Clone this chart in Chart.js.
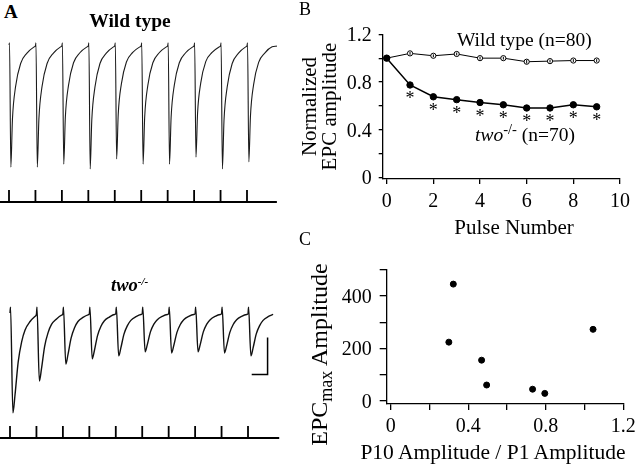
<!DOCTYPE html>
<html><head><meta charset="utf-8">
<script src="https://cdn.jsdelivr.net/npm/chart.js@4.4.1/dist/chart.umd.min.js"></script>
<style>
html,body{margin:0;padding:0;background:#fff;}
#fig{position:relative;width:640px;height:465px;overflow:hidden;background:#fff;font-family:"Liberation Serif","Times New Roman",serif;color:#000;}
#fig canvas{position:absolute;}
.t{position:absolute;white-space:nowrap;line-height:1;}
.tk{position:absolute;white-space:nowrap;line-height:1;font-size:20px;height:20px;width:100px;}
.rot{position:absolute;white-space:nowrap;line-height:1;text-align:center;transform:rotate(-90deg);}
.sup{position:relative;font-size:0.6em;top:-0.55em;}
.supB{position:relative;font-size:0.75em;top:-0.45em;}
.sub{position:relative;font-size:0.75em;top:0.3em;}
</style></head><body>
<div id="fig">
<canvas id="wtTrace" width="280" height="180" style="left:0;top:30px"></canvas>
<canvas id="twoTrace" width="280" height="180" style="left:0;top:280px"></canvas>
<canvas id="chartB" width="342" height="220" style="left:298px;top:19px"></canvas>
<canvas id="chartC" width="342" height="210" style="left:298px;top:255px"></canvas>

<div class="t" style="left:4px;top:2px;font-size:19px;font-weight:bold;">A</div>
<div class="t" style="left:30px;width:200px;text-align:center;top:11px;font-size:19.5px;font-weight:bold;">Wild type</div>
<div class="t" style="left:111px;top:276px;font-size:18.5px;font-weight:bold;font-style:italic;">two<span class="sup">-/-</span></div>

<div class="t" style="left:299px;top:0px;font-size:18px;">B</div>
<div class="t" style="left:457px;top:30px;font-size:19.5px;">Wild type (n=80)</div>
<div class="t" style="left:475px;top:125px;font-size:19.5px;"><i>two</i><span class="supB">-/-</span> (n=70)</div>
<div class="t" style="left:414px;width:200px;text-align:center;top:217px;font-size:21px;">Pulse Number</div>
<div class="rot" style="left:209px;width:200px;top:96px;height:21px;font-size:21px;">Normalized</div>
<div class="rot" style="left:229px;width:200px;top:96px;height:21px;font-size:21px;">EPC amplitude</div>

<div class="t" style="left:299px;top:230px;font-size:18px;">C</div>
<div class="t" style="left:343px;width:300px;text-align:center;top:442px;font-size:21.5px;">P10 Amplitude / P1 Amplitude</div>
<div class="rot" style="left:188px;width:260px;top:343px;height:23px;font-size:24px;">EPC<span class="sub">max</span> Amplitude</div>
</div>

<script>
// ---------- Panel A: stimulus train and recorded currents ----------
const stimTimes = [0, 100, 200, 300, 400, 500, 600, 700, 800, 900]; // ms
const wtSweep = [-34, 1013];   // ms, recording window
const twoSweep = [-38, 1018];  // ms, recording window

const wtTime = [
  0, 2, 7, 13, 25, 44, 68, 95,
  100, 102, 107, 113, 125, 144, 168, 195,
  200, 202, 207, 213, 225, 244, 268, 295,
  300, 302, 307, 313, 325, 344, 368, 395,
  400, 402, 407, 413, 425, 444, 468, 495,
  500, 502, 507, 513, 525, 544, 568, 595,
  600, 602, 607, 613, 625, 644, 668, 695,
  700, 702, 707, 713, 725, 744, 768, 795,
  800, 802, 807, 813, 825, 844, 868, 895,
  900, 902, 907, 913, 925, 944, 968, 995,
  1013
];
const wtCurrent = [ // nA
  0, 6, -330, -201, -112, -50, -22, -5,
  -2, 6, -330, -201, -112, -50, -22, -5,
  -2, 6, -322, -196, -109, -48, -21, -5,
  -2, 6, -335, -204, -114, -50, -22, -5,
  -2, 6, -308, -188, -105, -46, -20, -5,
  -2, 6, -322, -196, -109, -48, -21, -5,
  -2, 6, -322, -196, -109, -48, -21, -5,
  -2, 6, -303, -185, -103, -45, -20, -5,
  -2, 6, -335, -204, -114, -50, -22, -5,
  -2, 6, -316, -193, -107, -47, -21, -5,
  -3
];

const twoTime = [
  0, 2, 11, 19, 31, 44, 57, 76, 95,
  100, 102, 111, 119, 131, 144, 157, 176, 195,
  200, 202, 211, 219, 231, 244, 257, 276, 295,
  300, 302, 311, 319, 331, 344, 357, 376, 395,
  400, 402, 411, 419, 431, 444, 457, 476, 495,
  500, 502, 511, 519, 531, 544, 557, 576, 595,
  600, 602, 611, 619, 631, 644, 657, 676, 695,
  700, 702, 711, 719, 731, 744, 757, 776, 795,
  800, 802, 811, 819, 831, 844, 857, 876, 895,
  900, 902, 911, 919, 931, 944, 957, 976, 995
];
const twoCurrent = [ // nA
  0, 16, -270, -221, -132, -78, -46, -23, -9,
  -3, 16, -184, -151, -90, -53, -31, -16, -6,
  -2, 16, -138, -113, -68, -40, -23, -12, -5,
  -2, 16, -124, -102, -61, -36, -21, -11, -4,
  -2, 16, -116, -95, -57, -34, -20, -10, -4,
  -2, 16, -105, -86, -51, -30, -18, -9, -4,
  -2, 16, -108, -89, -53, -31, -18, -9, -4,
  -2, 16, -105, -86, -51, -30, -18, -9, -4,
  -2, 16, -108, -89, -53, -31, -18, -9, -4,
  -2, 16, -116, -95, -57, -34, -20, -10, -4
];
const scaleBarMs = 60, scaleBarNA = 100;
const scaleBarCorner = {t: 974, nA: -166};

// ---------- Panel B: normalized EPC amplitude vs pulse ----------
const pulseNumbers = [0, 1, 2, 3, 4, 5, 6, 7, 8, 9];
const wtNormalized = [1.00, 1.04, 1.02, 1.035, 1.00, 1.00, 0.97, 0.975, 0.98, 0.98];
const wtSem = [0.0, 0.012, 0.012, 0.012, 0.012, 0.012, 0.015, 0.012, 0.012, 0.012];
const twoNormalized = [1.00, 0.775, 0.676, 0.652, 0.628, 0.609, 0.582, 0.582, 0.609, 0.592];
const twoSem = [0.0, 0.01, 0.01, 0.01, 0.01, 0.01, 0.01, 0.01, 0.01, 0.01];
const significant = [false, true, true, true, true, true, true, true, true, true];
const bYTicks = [0, 0.4, 0.8, 1.2];
const bXTicks = [0, 2, 4, 6, 8, 10];

// ---------- Panel C: EPCmax vs P10/P1 ----------
const p10OverP1 = [0.323, 0.30, 0.469, 0.495, 0.732, 0.795, 1.044];
const epcMax = [446, 224, 155, 60, 44, 28, 273];
const cYTicks = [0, 200, 400];
const cXTicks = [0, 0.4, 0.8, 1.2];

// ---------- helpers ----------
const fig = document.getElementById('fig');
const pts = (xs, ys) => xs.map((x, i) => ({x: x, y: ys[i]}));
const stimData = (sweep) => {
  const d = [{x: sweep[0], y: 0}];
  stimTimes.forEach(t => { d.push({x: t, y: 0}, {x: t, y: 1}, {x: t, y: 0}); });
  d.push({x: sweep[1], y: 0});
  return d;
};
const hidden = (min, max) => ({type: 'linear', display: false, min: min, max: max});
const baseOpts = {
  responsive: false, animation: false, events: [],
  plugins: {legend: {display: false}, tooltip: {enabled: false}}
};
function addText(txt, left, top, cls, style) {
  const d = document.createElement('div');
  d.className = cls; d.textContent = txt;
  d.style.left = left + 'px'; d.style.top = top + 'px';
  Object.assign(d.style, style || {});
  fig.appendChild(d);
  return d;
}

// Tick labels placed as real text at the positions given by the chart's own scales
function htmlTickPlugin(axes, extra) {
  let done = false;
  return {
    id: 'htmlTicks',
    afterRender(chart) {
      if (done) return; done = true;
      const cl = chart.canvas.offsetLeft, ct = chart.canvas.offsetTop;
      axes.forEach(a => {
        const sc = chart.scales[a.id];
        a.values.forEach(v => {
          const p = sc.getPixelForValue(v);
          if (sc.isHorizontal()) {
            addText(a.fmt(v), cl + p - 50, ct + sc.top + a.offset - 10, 'tk', {textAlign: 'center'});
          } else {
            addText(a.fmt(v), cl + sc.right - a.offset - 100, ct + p - 10, 'tk', {textAlign: 'right'});
          }
        });
      });
      if (extra) extra(chart, cl, ct);
    }
  };
}

// ---------- Panel A charts ----------
function traceChart(id, time, current, sweep, xr, yr, sr, color, lw, extra) {
  const datasets = [
    {data: pts(time, current), borderColor: color, borderWidth: lw, pointRadius: 0,
     cubicInterpolationMode: 'monotone', yAxisID: 'y'},
    {data: stimData(sweep), borderColor: '#000', borderWidth: 1.8, pointRadius: 0,
     tension: 0, yAxisID: 'ys'}
  ].concat(extra || []);
  return new Chart(document.getElementById(id), {
    type: 'line',
    data: {datasets: datasets},
    options: Object.assign({}, baseOpts, {
      layout: {padding: 0},
      scales: {x: hidden(xr[0], xr[1]), y: hidden(yr[0], yr[1]), ys: hidden(sr[0], sr[1])}
    })
  });
}
traceChart('wtTrace', wtTime, wtCurrent, wtSweep, [-34.03, 1024.8], [-445.95, 40.54], [-0.667, 14.333], '#1b1b1b', 1.1);
traceChart('twoTrace', twoTime, twoCurrent, twoSweep, [-37.82, 1020.97], [-397.3, 89.19], [-1.833, 13.167], '#111', 1.4, [
  {data: [
     {x: scaleBarCorner.t - scaleBarMs, y: scaleBarCorner.nA},
     {x: scaleBarCorner.t, y: scaleBarCorner.nA},
     {x: scaleBarCorner.t, y: scaleBarCorner.nA + scaleBarNA}],
   borderColor: '#000', borderWidth: 1.5, pointRadius: 0, tension: 0, yAxisID: 'y'}
]);

// ---------- axes for panels B and C ----------
function framedAxis(o) {
  return {
    type: 'linear', min: o.min, max: o.max,
    afterFit: o.fit,
    border: {display: true, color: '#000', width: 1.3},
    grid: {drawOnChartArea: false, drawTicks: true, color: '#000', lineWidth: 1.3, tickLength: o.tl},
    ticks: {stepSize: o.step, includeBounds: false, display: false, autoSkip: false}
  };
}
const fmtDec = (v) => (v === 0 ? '0' : v.toFixed(1));

// ---------- Panel B ----------
const errorBars = {
  id: 'errorBars',
  afterDatasetsDraw(chart) {
    const ctx = chart.ctx, xs = chart.scales.x, ys = chart.scales.y;
    ctx.save();
    ctx.strokeStyle = '#000'; ctx.lineWidth = 1;
    pulseNumbers.forEach((p, i) => {
      const px = xs.getPixelForValue(p);
      [[wtNormalized, wtSem], [twoNormalized, twoSem]].forEach(([v, s]) => {
        if (s[i] > 0) {
          ctx.beginPath();
          ctx.moveTo(px, ys.getPixelForValue(v[i] - s[i]));
          ctx.lineTo(px, ys.getPixelForValue(v[i] + s[i]));
          ctx.stroke();
        }
      });
    });
    ctx.restore();
  }
};
const asterisks = (chart, cl, ct) => {
  pulseNumbers.forEach((p, i) => {
    if (!significant[i]) return;
    const x = cl + chart.scales.x.getPixelForValue(p);
    const y = ct + chart.scales.y.getPixelForValue(twoNormalized[i]);
    addText('*', x - 20, y + 4.4, 't', {width: '40px', textAlign: 'center', fontSize: '18px'});
  });
};

new Chart(document.getElementById('chartB'), {
  type: 'line',
  data: {datasets: [
    {data: pts(pulseNumbers, twoNormalized), borderColor: '#000', borderWidth: 1.5, tension: 0,
     pointRadius: 3.2, pointStyle: 'circle', pointBackgroundColor: '#000', pointBorderColor: '#000', pointBorderWidth: 1},
    {data: pts(pulseNumbers, wtNormalized), borderColor: '#000', borderWidth: 1, tension: 0,
     pointRadius: 2.6, pointStyle: 'circle', pointBackgroundColor: '#fff', pointBorderColor: '#000', pointBorderWidth: 1}
  ]},
  options: Object.assign({}, baseOpts, {
    layout: {padding: {top: 15.3, right: 20, left: 0, bottom: 0}},
    scales: {
      x: framedAxis({min: -0.1714, max: 10, step: 2, tl: 5, fit: s => { s.height = 60; }}),
      y: framedAxis({min: -0.0134, max: 1.2, step: 0.2, tl: 4, fit: s => { s.width = 84.7; }})
    }
  }),
  plugins: [errorBars, htmlTickPlugin([
    {id: 'x', values: bXTicks, fmt: v => String(v), offset: 20.7},
    {id: 'y', values: bYTicks, fmt: fmtDec, offset: 11}
  ], asterisks)]
});

// ---------- Panel C ----------
new Chart(document.getElementById('chartC'), {
  type: 'scatter',
  data: {datasets: [
    {data: pts(p10OverP1, epcMax), pointRadius: 3, pointBackgroundColor: '#000', pointBorderColor: '#000', showLine: false}
  ]},
  options: Object.assign({}, baseOpts, {
    layout: {padding: {top: 15, right: 16.7, left: 0, bottom: 0}},
    scales: {
      x: framedAxis({min: -0.0206, max: 1.2, step: 0.2, tl: 6, fit: s => { s.height = 61; }}),
      y: framedAxis({min: -12.6, max: 500, step: 100, tl: 7, fit: s => { s.width = 88.7; }})
    }
  }),
  plugins: [htmlTickPlugin([
    {id: 'x', values: cXTicks, fmt: fmtDec, offset: 21},
    {id: 'y', values: cYTicks, fmt: v => String(v), offset: 15}
  ])]
});
</script>
</body></html>
